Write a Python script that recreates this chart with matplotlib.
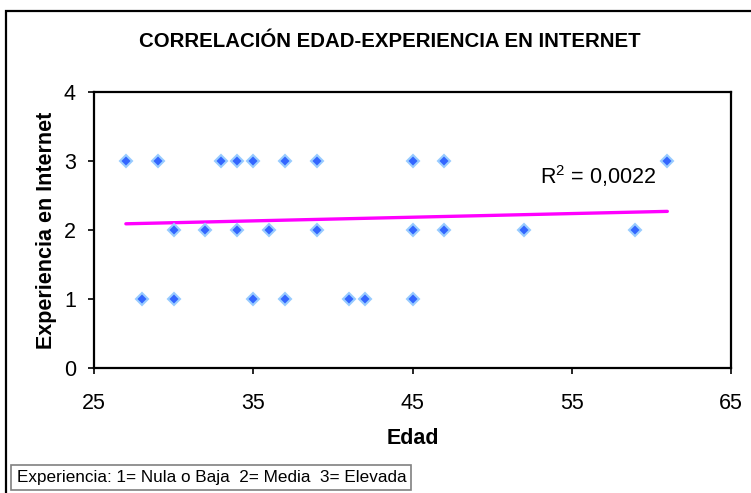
import matplotlib
matplotlib.use("Agg")
import matplotlib.pyplot as plt
from matplotlib.patches import Rectangle

plt.rcParams["font.family"] = ["Liberation Sans", "DejaVu Sans"]

# data
edad_alta = [27, 29, 33, 34, 35, 37, 39, 45, 47, 61]
edad_media = [30, 32, 34, 36, 39, 45, 47, 52, 59]
edad_baja = [28, 30, 35, 37, 41, 42, 45]
edad = edad_alta + edad_media + edad_baja
experiencia = [3] * len(edad_alta) + [2] * len(edad_media) + [1] * len(edad_baja)

trend_x = [27, 61]
trend_y = [2.09, 2.27]
r2_label = "R$^2$ = 0,0022"

x_ticks = [25, 35, 45, 55, 65]
y_ticks = [0, 1, 2, 3, 4]

plt.rcParams["mathtext.fontset"] = "custom"
plt.rcParams["mathtext.rm"] = "Liberation Sans"
plt.rcParams["mathtext.default"] = "rm"

fig = plt.figure(figsize=(7.51, 4.93), dpi=100)
ax = fig.add_axes([0.1252, 0.2535, 0.8482, 0.5599])

ax.plot(trend_x, trend_y, color="#ff00ff", linewidth=2.4, solid_capstyle="round", zorder=2)
ax.plot(edad, experiencia, linestyle="none", marker="D", markersize=6,
        markerfacecolor="#3366ff", markeredgecolor="#99ccff", markeredgewidth=1.5, zorder=3)

ax.text(53, 2.78, r2_label, fontsize=15.5, ha="left", va="center")

ax.set_xlim(25, 65)
ax.set_ylim(0, 4)
ax.set_xticks(x_ticks)
ax.set_yticks(y_ticks)
ax.tick_params(direction="out", length=4, width=1.2, labelsize=15.5)
ax.tick_params(axis="x", pad=14)
ax.tick_params(axis="y", pad=9)
for s in ax.spines.values():
    s.set_linewidth(1.6)
    s.set_color("black")

ax.set_xlabel("Edad", fontsize=15.5, fontweight="bold", labelpad=10)
ax.set_ylabel("Experiencia en Internet", fontsize=15.5, fontweight="bold", labelpad=5)

fig.text(0.519, 0.916, "CORRELACIÓN EDAD-EXPERIENCIA EN INTERNET",
         fontsize=14.7, fontweight="bold", ha="center", va="center")

# outer chart frame
fig.patches.append(Rectangle((0.008, -0.1), 1.2, 1.1 - 11 / 493, transform=fig.transFigure,
                             fill=False, edgecolor="black", linewidth=1.6))

# note box
fig.text(0.022, 0.032, "Experiencia: 1= Nula o Baja  2= Media  3= Elevada",
         fontsize=12.3, ha="left", va="center",
         bbox=dict(boxstyle="square,pad=0.3", facecolor="white",
                   edgecolor="#808080", linewidth=1.2))

fig.savefig("out.png", dpi=100)
